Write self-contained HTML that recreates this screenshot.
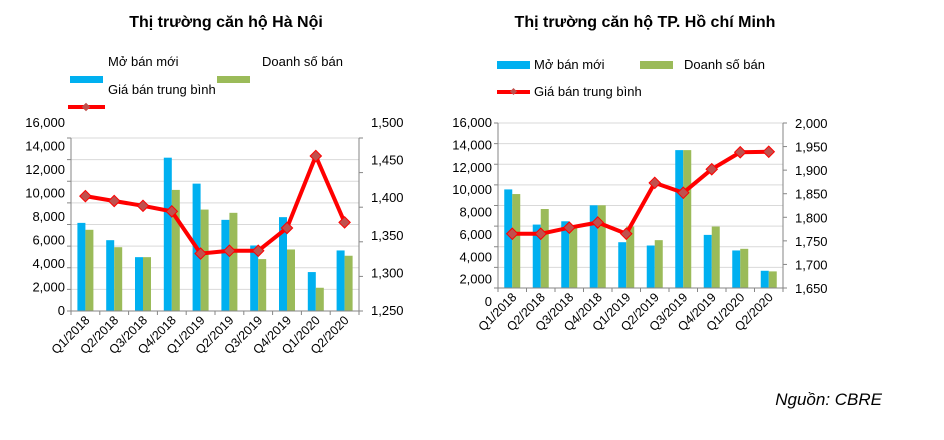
<!DOCTYPE html>
<html><head><meta charset="utf-8">
<style>
html,body{margin:0;padding:0;background:#fff;}
svg{display:block;font-family:"Liberation Sans",sans-serif;}
</style></head>
<body>
<svg id="c" width="944" height="440" viewBox="0 0 944 440">
  <text x="226" y="27" font-size="16" font-weight="bold" text-anchor="middle" fill="#000">Thị trường căn hộ Hà Nội</text>
  <text x="645" y="27" font-size="16" font-weight="bold" text-anchor="middle" fill="#000">Thị trường căn hộ TP. Hồ chí Minh</text>

  <g font-size="13" fill="#000">
    <rect x="70" y="76" width="33" height="7" fill="#00b0f0"/>
    <text x="108" y="66">Mở bán mới</text>
    <rect x="217" y="76" width="33" height="7" fill="#9bbb59"/>
    <text x="262" y="66">Doanh số bán</text>
    <text x="108" y="94">Giá bán trung bình</text>
    <line x1="68" y1="107" x2="105" y2="107" stroke="#ff0000" stroke-width="4"/>
    <rect x="83" y="104" width="6" height="6" fill="#c0504d" transform="rotate(45 86 107)"/>
  </g>
  <g font-size="13" fill="#000">
    <rect x="497" y="61" width="33" height="8" fill="#00b0f0"/>
    <text x="534" y="69">Mở bán mới</text>
    <rect x="640" y="61" width="33" height="8" fill="#9bbb59"/>
    <text x="684" y="69">Doanh số bán</text>
    <line x1="497" y1="92" x2="530" y2="92" stroke="#ff0000" stroke-width="4"/>
    <rect x="511" y="89" width="5" height="5" fill="#c0504d" transform="rotate(45 513.5 91.5)"/>
    <text x="534" y="96">Giá bán trung bình</text>
  </g>
  <text x="882" y="405" font-size="17" font-style="italic" text-anchor="end" fill="#000">Nguồn: CBRE</text>
</svg>
<script>
const categories = ["Q1/2018","Q2/2018","Q3/2018","Q4/2018","Q1/2019","Q2/2019","Q3/2019","Q4/2019","Q1/2020","Q2/2020"];
const hnOpen  = [8150,6550,4980,14180,11780,8430,6060,8680,3600,5600];
const hnSales = [7510,5900,4980,11200,9380,9080,4800,5690,2150,5110];
const hnPrice = [1416,1409,1402,1394,1333,1337,1337,1370,1474,1378];
const hnLeftTicks = [0,2000,4000,6000,8000,10000,12000,14000,16000];
const hnRightTicks = [1250,1300,1350,1400,1450,1500];
const hcmOpen  = [9560,6150,6470,8020,4440,4120,13370,5150,3640,1670];
const hcmSales = [9110,7660,5960,8020,5960,4640,13370,5960,3800,1610];
const hcmPrice = [1765,1765,1778,1789,1765,1873,1852,1902,1938,1939];
const hcmLeftTicks = [0,2000,4000,6000,8000,10000,12000,14000,16000];
const hcmRightTicks = [1650,1700,1750,1800,1850,1900,1950,2000];

const NS = "http://www.w3.org/2000/svg";
const svg = document.getElementById('c');
function mk(tag, attrs, parent){
  const e = document.createElementNS(NS, tag);
  for (const k in attrs) e.setAttribute(k, attrs[k]);
  (parent||svg).appendChild(e);
  return e;
}
function fmt(v){ return v.toLocaleString('en-US'); }

// label bands mimic the reference's offset tick-label layout
function drawChart(prefix, x0, x1, yTop, yBot, openV, salesV, priceV, lTicks, rTicks, lLab, rLab){
  const g = mk('g', {});
  
  
  const lMax = lTicks[lTicks.length-1], lMin = lTicks[0];
  const rMin = rTicks[0], rMax = rTicks[rTicks.length-1];
  const yL = v => yBot - (v - lMin) / (lMax - lMin) * (yBot - yTop);
  const yR = v => yBot - (v - rMin) / (rMax - rMin) * (yBot - yTop);
  const yLlab = v => lLab[1] - (v - lMin) / (lMax - lMin) * (lLab[1] - lLab[0]);
  const yRlab = v => rLab[1] - (v - rMin) / (rMax - rMin) * (rLab[1] - rLab[0]);
  const cw = (x1 - x0) / categories.length;
  const cx = i => x0 + cw * (i + 0.5);
  lTicks.forEach(t => {
    const y = yL(t);
    const gl = mk('line', {x1:x0, x2:x1, y1:y, y2:y, stroke:'#d9d9d9', 'stroke-width':1}, g);
    
    
    mk('line', {x1:x0-4, x2:x0, y1:y, y2:y, stroke:'#868686'}, g);
    const tx = mk('text', {x:x0-6, y:yLlab(t)+5, 'font-size':13, 'text-anchor':'end', fill:'#000'}, g);
    
    
    tx.textContent = fmt(t);
  });
  rTicks.forEach(t => {
    const y = yR(t);
    mk('line', {x1:x1, x2:x1+4, y1:y, y2:y, stroke:'#868686'}, g);
    const tx = mk('text', {x:x1+12, y:yRlab(t)+5, 'font-size':13, fill:'#000'}, g);
    
    
    tx.textContent = fmt(t);
  });
  categories.forEach((c, i) => {
    const b1 = mk('rect', {x:cx(i)-8, y:yL(openV[i]), width:8, height:yBot-yL(openV[i]), fill:'#00b0f0'}, g);
    
    
    const b2 = mk('rect', {x:cx(i), y:yL(salesV[i]), width:8, height:yBot-yL(salesV[i]), fill:'#9bbb59'}, g);
    
    
  });
  mk('line', {x1:x0, x2:x0, y1:yTop, y2:yBot, stroke:'#868686'}, g);
  mk('line', {x1:x1, x2:x1, y1:yTop, y2:yBot, stroke:'#868686'}, g);
  mk('line', {x1:x0, x2:x1, y1:yBot, y2:yBot, stroke:'#868686'}, g);
  for (let i = 0; i <= categories.length; i++) {
    mk('line', {x1:x0+cw*i, x2:x0+cw*i, y1:yBot, y2:yBot+4, stroke:'#868686'}, g);
  }
  categories.forEach((c, i) => {
    const x = cx(i) + 5, y = yBot + 10;
    const tx = mk('text', {x:x, y:y, 'font-size':12.5, 'text-anchor':'end', fill:'#000', transform:'rotate(-45 '+x+' '+y+')'}, g);
    
    
    tx.textContent = c;
  });
  const pts = priceV.map((v, i) => cx(i) + ',' + yR(v)).join(' ');
  const pl = mk('polyline', {points:pts, fill:'none', stroke:'#ff0000', 'stroke-width':4, 'stroke-linejoin':'round'}, g);
  
  
  priceV.forEach((v, i) => {
    const x = cx(i), y = yR(v);
    const m = mk('rect', {x:x-4, y:y-4, width:8, height:8, fill:'#c0504d', stroke:'#ff0000', 'stroke-width':1, transform:'rotate(45 '+x+' '+y+')'}, g);
    
    
  });
}
drawChart('hanoi', 71, 359, 138, 311, hnOpen, hnSales, hnPrice, hnLeftTicks, hnRightTicks, [122, 310], [122, 310]);
drawChart('hcmc', 498, 783, 123, 288, hcmOpen, hcmSales, hcmPrice, hcmLeftTicks, hcmRightTicks, [122, 301], [123, 288]);
</script>
</body></html>
